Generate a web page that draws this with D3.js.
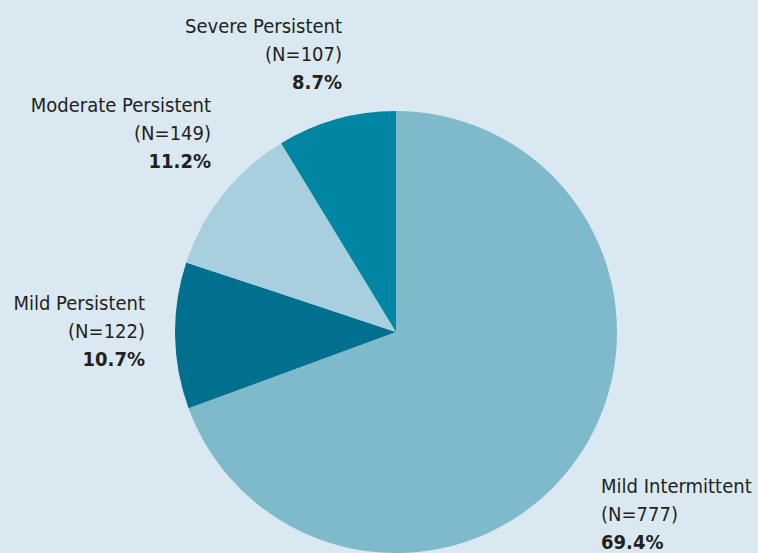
<!DOCTYPE html>
<html><head><meta charset="utf-8">
<script src="https://cdn.jsdelivr.net/npm/d3@7"></script>
<style>
html,body{margin:0;padding:0;background:#dae9f1;}
svg{display:block;}
text{font-family:"Liberation Sans Narrow","DejaVu Sans Condensed","Roboto Condensed",sans-serif;fill:#231f20;}
</style></head><body>
<svg id="c" width="758" height="553"></svg>
<script>
const categories = ["Mild Intermittent","Mild Persistent","Moderate Persistent","Severe Persistent"];
const counts = [777,122,149,107];
const percents = [69.4,10.7,11.2,8.7];
const colors = ["#7eb9cc","#00708e","#a7cfdd","#0086a3"];

const svg = d3.select("#c");
svg.append("rect").attr("width",758).attr("height",553).attr("fill","#dae9f1");
const cx=396, cy=332, r=221;
const pie = d3.pie().sort(null).value(d=>d.p);
const data = categories.map((c,i)=>({c,n:counts[i],p:percents[i],col:colors[i]}));
const arcs = pie(data);
const arc = d3.arc().innerRadius(0).outerRadius(r);
const g = svg.append("g").attr("transform",`translate(${cx},${cy})`);
g.selectAll("path").data(arcs).join("path").attr("d",arc).attr("fill",d=>d.data.col);

// label anchor positions (x, first baseline, anchor)
const labelPos = [[601,493,"start"],[145,310,"end"],[211,112,"end"],[342,33,"end"]];
const lh = 28;
data.forEach((d,i)=>{
  const [x,y,a]=labelPos[i];
  const t = svg.append("text").attr("x",x).attr("y",y).attr("text-anchor",a).style("font-size","20px");
  t.append("tspan").attr("x",x).attr("dy",0).text(d.c);
  t.append("tspan").attr("x",x).attr("dy",lh).text(`(N=${d.n})`);
  t.append("tspan").attr("x",x).attr("dy",lh).style("font-weight","bold").text(`${d.p}%`);
});
</script></body></html>
